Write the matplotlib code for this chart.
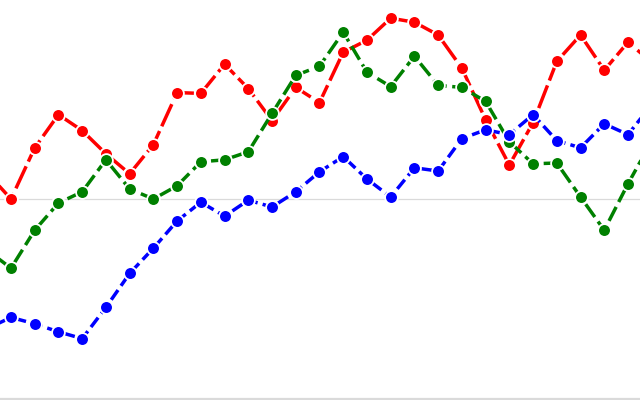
import matplotlib
matplotlib.use("Agg")
import matplotlib.pyplot as plt
import numpy as np

# values (first and last points sit just outside the view)
red_values = [56.5, 50.0, 62.8, 71.1, 67.1, 61.3, 56.3, 63.6, 76.6, 76.4,
              83.7, 77.6, 69.6, 77.9, 74.1, 86.7, 89.7, 95.2, 94.2, 91.0,
              82.7, 69.8, 58.5, 69.1, 84.4, 91.0, 82.2, 89.2, 84.2]
green_values = [37.2, 32.7, 42.2, 49.0, 51.8, 59.8, 52.5, 50.0, 53.3, 59.3,
                59.8, 61.8, 71.4, 80.9, 83.2, 91.7, 81.7, 78.1, 85.7, 78.4,
                77.9, 74.4, 64.3, 58.8, 59.0, 50.5, 42.2, 53.8, 64.5]
blue_values = [17.6, 20.4, 18.8, 16.8, 15.1, 22.9, 31.4, 37.7, 44.5, 49.2,
               45.7, 49.7, 48.0, 51.8, 56.8, 60.6, 55.0, 50.5, 57.8, 57.0,
               65.1, 67.3, 66.1, 71.1, 64.6, 62.8, 68.8, 66.1, 73.6]
steps = np.arange(-1, len(red_values) - 1)


def plot_series(ax, values, color, dashes, z):
    # dashed line with round markers outlined in white
    ax.plot(steps, values, color=color, linewidth=2.5, dashes=dashes,
            marker='o', markersize=9.2, markerfacecolor=color,
            markeredgecolor='white', markeredgewidth=1.3, zorder=z)


fig = plt.figure(figsize=(6.4, 4), dpi=100)
ax = fig.add_axes([0, 0, 1, 1])

ax.axhline(50, color='#dadada', linewidth=0.9, zorder=1)
ax.axhline(0, color='#dadada', linewidth=1.6, zorder=1)

plot_series(ax, red_values, '#ff0000', (7, 1.5), 2)
plot_series(ax, green_values, '#008000', (4.5, 1.6), 3)
plot_series(ax, blue_values, '#0000ff', (3.4, 1.5), 4)

ax.set_xlim(-0.4635, 26.506)
ax.set_ylim(-0.25, 99.75)
ax.axis('off')

plt.savefig('out.png', dpi=100)
